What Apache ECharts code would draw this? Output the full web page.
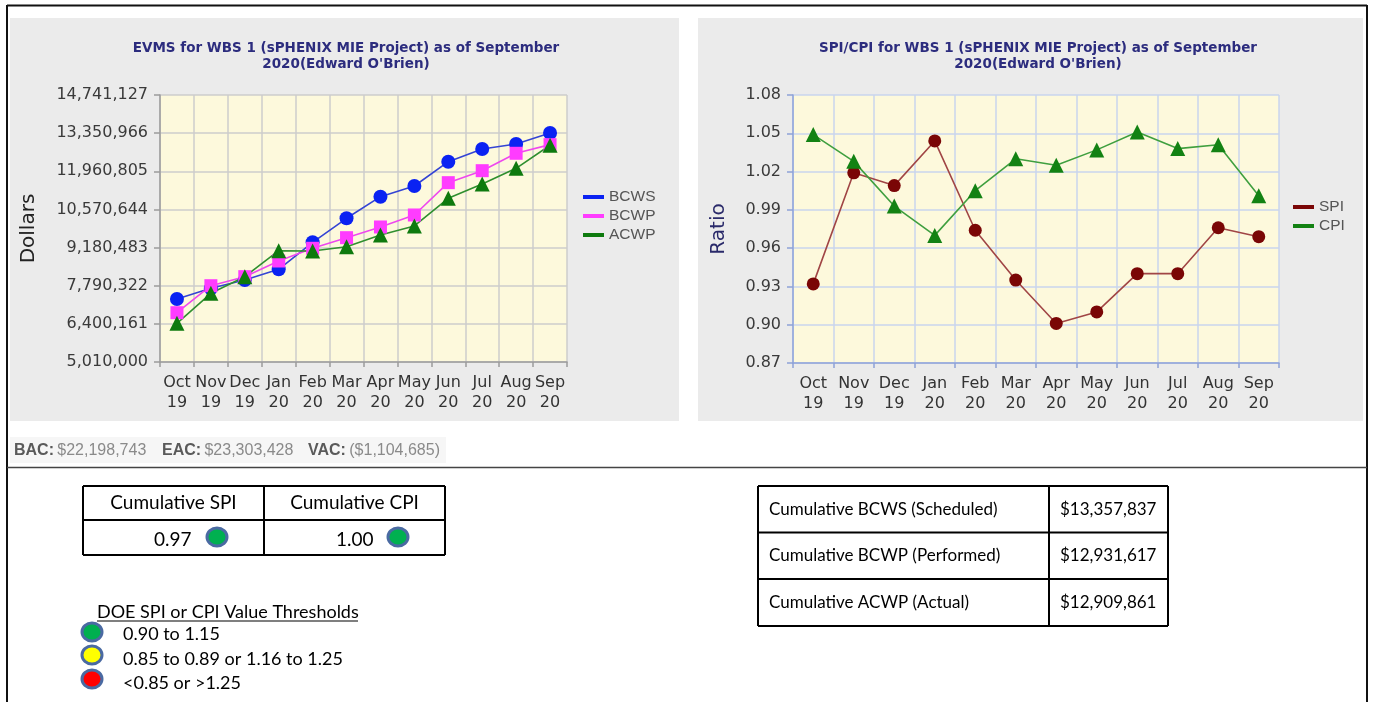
<!DOCTYPE html>
<html>
<head>
<meta charset="utf-8">
<script src="https://cdn.jsdelivr.net/npm/echarts@6/dist/echarts.min.js"></script>
<style>
  html, body { margin: 0; padding: 0; background: #ffffff; }
  #main { width: 1375px; height: 702px; }
</style>
</head>
<body>
<div id="main"></div>
<script>
// ---- data ----
const months = ['Oct', 'Nov', 'Dec', 'Jan', 'Feb', 'Mar', 'Apr', 'May', 'Jun', 'Jul', 'Aug', 'Sep'];
const years = ['19', '19', '19', '20', '20', '20', '20', '20', '20', '20', '20', '20'];

const bcws = [7306000, 7696000, 8000000, 8389000, 9373000, 10248000, 11035000, 11425000, 12311000, 12774000, 12956000, 13357837];
const bcwp = [6807000, 7791000, 8120000, 8691000, 9154000, 9541000, 9931000, 10368000, 11546000, 11983000, 12617000, 12931617];
const acwp = [6420000, 7514000, 8120000, 9067000, 9056000, 9213000, 9639000, 9967000, 10977000, 11498000, 12070000, 12909861];

const spi = [0.932, 1.019, 1.009, 1.044, 0.974, 0.935, 0.901, 0.910, 0.940, 0.940, 0.976, 0.969];
const cpi = [1.049, 1.028, 0.993, 0.970, 1.005, 1.030, 1.025, 1.037, 1.051, 1.038, 1.041, 1.001];

const dollarTicks = [5010000, 6400161, 7790322, 9180483, 10570644, 11960805, 13350966, 14741127];
const ratioTicks = [0.87, 0.90, 0.93, 0.96, 0.99, 1.02, 1.05, 1.08];

const evmsTitle = "EVMS for WBS 1 (sPHENIX MIE Project) as of September\n2020(Edward O'Brien)";
const ratioTitle = "SPI/CPI for WBS 1 (sPHENIX MIE Project) as of September\n2020(Edward O'Brien)";

const summaryLabels = ['BAC:', 'EAC:', 'VAC:'];
const summaryValues = ['$22,198,743', '$23,303,428', '($1,104,685)'];

const indexHeaders = ['Cumulative SPI', 'Cumulative CPI'];
const indexValues = ['0.97', '1.00'];

const costLabels = ['Cumulative BCWS (Scheduled)', 'Cumulative BCWP (Performed)', 'Cumulative ACWP (Actual)'];
const costValues = ['$13,357,837', '$12,931,617', '$12,909,861'];

const thresholdTitle = 'DOE SPI or CPI Value Thresholds';
const thresholdLabels = ['0.90 to 1.15', '0.85 to 0.89 or 1.16 to 1.25', '<0.85 or >1.25'];

// ---- styles ----
const AXIS_FONT = 'DejaVu Sans';
const TITLE_FONT = "'DejaVu Sans', sans-serif";
const BODY_FONT = 'Lato';
const PANEL_BG = '#ebebeb';
const PLOT_BG = '#fdf9dc';
const dotFills = ['#00b050', '#ffff00', '#ff0000'];
const DOT_RING = '#4a6aa2';

const categoryLabels = months.map((m, i) => m + '\n' + years[i]);

function categoryAxis(gridIndex, lineColor, gridColor) {
  return {
    gridIndex: gridIndex,
    type: 'category',
    data: categoryLabels,
    boundaryGap: true,
    axisLine: { show: true, lineStyle: { color: lineColor, width: 1.5 } },
    axisTick: { show: true, length: 5, interval: 0, lineStyle: { color: lineColor, width: 1.5 } },
    axisLabel: {
      interval: 0, hideOverlap: false, margin: 11,
      color: '#333333', fontFamily: AXIS_FONT, fontSize: 16, lineHeight: 20
    },
    splitLine: { show: true, interval: 0, lineStyle: { color: gridColor, width: 1.5 } }
  };
}

function valueAxis(gridIndex, ticks, fmt, name, nameColor, nameGap, lineColor, gridColor) {
  return {
    gridIndex: gridIndex,
    type: 'value',
    min: ticks[0],
    max: ticks[ticks.length - 1],
    name: name,
    nameLocation: 'middle',
    nameGap: nameGap,
    nameTextStyle: { fontFamily: AXIS_FONT, fontSize: 20, color: nameColor },
    axisLine: { show: true, lineStyle: { color: lineColor, width: 1.5 } },
    axisTick: { show: true, length: 6, customValues: ticks, lineStyle: { color: lineColor, width: 1.5 } },
    axisLabel: {
      customValues: ticks, formatter: fmt, margin: 12,
      color: '#3a3a3a', fontFamily: AXIS_FONT, fontSize: 16
    },
    splitLine: { show: true, lineStyle: { color: gridColor, width: 1.5 } }
  };
}

function lineSeries(name, data, xi, yi, symbol, size, markColor, lineColor) {
  return {
    name: name,
    type: 'line',
    xAxisIndex: xi,
    yAxisIndex: yi,
    data: data,
    symbol: symbol,
    symbolSize: size,
    showAllSymbol: true,
    itemStyle: { color: markColor },
    lineStyle: { color: lineColor, width: 1.6 },
    emphasis: { disabled: true },
    z: 3
  };
}

// ---- page furniture: panels, frame, tables ----
const graphics = [];
const rect = (x, y, w, h, style, z) => graphics.push({ type: 'rect', silent: true, z: z, shape: { x: x, y: y, width: w, height: h }, style: style });
const line = (x1, y1, x2, y2, color, w) => graphics.push({ type: 'line', silent: true, z: 20, shape: { x1: x1, y1: y1, x2: x2, y2: y2 }, style: { stroke: color, lineWidth: w } });
const text = (x, y, str, opts) => graphics.push({
  type: 'text', silent: true, z: 20, x: x, y: y,
  style: Object.assign({ text: str, textAlign: 'left', textVerticalAlign: 'middle', fill: '#000000', fontFamily: BODY_FONT, fontSize: 17 }, opts)
});
const dot = (cx, cy, fill) => graphics.push({
  type: 'ellipse', silent: true, z: 21,
  shape: { cx: cx, cy: cy, rx: 10, ry: 9 },
  style: { fill: fill, stroke: DOT_RING, lineWidth: 3 }
});

// chart panels
rect(10, 18, 669, 403, { fill: PANEL_BG }, -10);
rect(698, 18, 665, 403, { fill: PANEL_BG }, -10);
// summary strip
rect(10, 437, 436, 26, { fill: '#f6f6f6' }, -10);

// outer frame and separator
line(7, 5.5, 1367, 5.5, '#111111', 2);
line(7, 5, 7, 702, '#111111', 2);
line(1367, 5, 1367, 702, '#111111', 2);
line(7, 467.5, 1367, 467.5, '#444444', 1.5);

// budget summary
const summaryX = [14, 162, 308];
summaryLabels.forEach((lab, i) => {
  graphics.push({
    type: 'text', silent: true, z: 20, x: summaryX[i], y: 451,
    style: {
      text: '{b|' + lab + '} {v|' + summaryValues[i] + '}',
      textVerticalAlign: 'middle',
      rich: {
        b: { fontFamily: 'Liberation Sans', fontSize: 16, fontWeight: 'bold', fill: '#5a5a5a', color: '#5a5a5a' },
        v: { fontFamily: 'Liberation Sans', fontSize: 16, fill: '#8a8a8a', color: '#8a8a8a' }
      }
    }
  });
});

// cumulative index table
const t1 = { x0: 83, x1: 264, x2: 445, y0: 486, y1: 520, y2: 555 };
line(t1.x0, t1.y0, t1.x2, t1.y0, '#000', 2);
line(t1.x0, t1.y1, t1.x2, t1.y1, '#000', 2);
line(t1.x0, t1.y2, t1.x2, t1.y2, '#000', 2);
line(t1.x0, t1.y0, t1.x0, t1.y2, '#000', 2);
line(t1.x1, t1.y0, t1.x1, t1.y2, '#000', 2);
line(t1.x2, t1.y0, t1.x2, t1.y2, '#000', 2);
text((t1.x0 + t1.x1) / 2, 503, indexHeaders[0], { textAlign: 'center', fontSize: 19 });
text((t1.x1 + t1.x2) / 2, 503, indexHeaders[1], { textAlign: 'center', fontSize: 19 });
text(154, 540, indexValues[0], { fontSize: 19 });
text(336, 540, indexValues[1], { fontSize: 19 });
dot(217, 537, dotFills[0]);
dot(398, 537, dotFills[0]);

// threshold key
text(97, 612, thresholdTitle, { fontSize: 18 });
line(97, 621, 358, 621, '#000', 1.2);
const keyY = [634, 659, 683];
thresholdLabels.forEach((lab, i) => {
  text(123, keyY[i], lab, { fontSize: 18 });
  dot(92, [632, 655, 679][i], dotFills[i]);
});

// cumulative cost table
const t2 = { x0: 758, x1: 1049, x2: 1168, ys: [486, 532.5, 579, 626] };
t2.ys.forEach(y => line(t2.x0, y, t2.x2, y, '#000', 2));
[t2.x0, t2.x1, t2.x2].forEach(x => line(x, t2.ys[0], x, t2.ys[3], '#000', 2));
costLabels.forEach((lab, i) => {
  const cy = (t2.ys[i] + t2.ys[i + 1]) / 2;
  text(769, cy, lab, { fontSize: 17 });
  text(1060, cy, costValues[i], { fontSize: 17 });
});

// ---- chart ----
const chart = echarts.init(document.getElementById('main'), null, { renderer: 'canvas' });

const titleStyle = { fontFamily: TITLE_FONT, fontSize: 13.5, fontWeight: 'bold', color: '#2c2c7e', lineHeight: 16 };
const legendText = { fontFamily: 'Liberation Sans', fontSize: 15.5, color: '#555555' };

chart.setOption({
  animation: false,
  backgroundColor: '#ffffff',
  title: [
    { text: evmsTitle, left: 341, top: 35, textAlign: 'center', textStyle: titleStyle },
    { text: ratioTitle, left: 1033, top: 35, textAlign: 'center', textStyle: titleStyle }
  ],
  legend: [
    {
      data: ['BCWS', 'BCWP', 'ACWP'],
      orient: 'vertical', left: 578, top: 184,
      icon: 'rect', itemWidth: 21, itemHeight: 4, itemGap: 3,
      textStyle: legendText,
      selectedMode: false
    },
    {
      data: ['SPI', 'CPI'],
      orient: 'vertical', left: 1288, top: 194,
      icon: 'rect', itemWidth: 21, itemHeight: 4, itemGap: 3,
      textStyle: legendText,
      selectedMode: false
    }
  ],
  grid: [
    { left: 160, top: 95, width: 407, height: 267, show: true, backgroundColor: PLOT_BG, borderWidth: 0 },
    { left: 793, top: 95, width: 486, height: 268, show: true, backgroundColor: PLOT_BG, borderWidth: 0 }
  ],
  xAxis: [
    categoryAxis(0, '#9c9c9c', '#cdcdcd'),
    categoryAxis(1, '#8ea3d8', '#c9d5ee')
  ],
  yAxis: [
    valueAxis(0, dollarTicks, v => Math.round(v).toLocaleString('en-US'), 'Dollars', '#222222', 121, '#9c9c9c', '#cdcdcd'),
    valueAxis(1, ratioTicks, v => v.toFixed(2), 'Ratio', '#2a2a6a', 64, '#8ea3d8', '#c9d5ee')
  ],
  series: [
    lineSeries('BCWS', bcws, 0, 0, 'circle', 14, '#0a22f2', '#3444d4'),
    lineSeries('BCWP', bcwp, 0, 0, 'rect', 13, '#ff3cff', '#ee48ee'),
    lineSeries('ACWP', acwp, 0, 0, 'triangle', 15, '#0e7a0e', '#2f8f2f'),
    lineSeries('SPI', spi, 1, 1, 'circle', 13, '#7a0606', '#a04545'),
    lineSeries('CPI', cpi, 1, 1, 'triangle', 15, '#138213', '#3f9f3f')
  ],
  graphic: { elements: graphics }
});
</script>
</body>
</html>
